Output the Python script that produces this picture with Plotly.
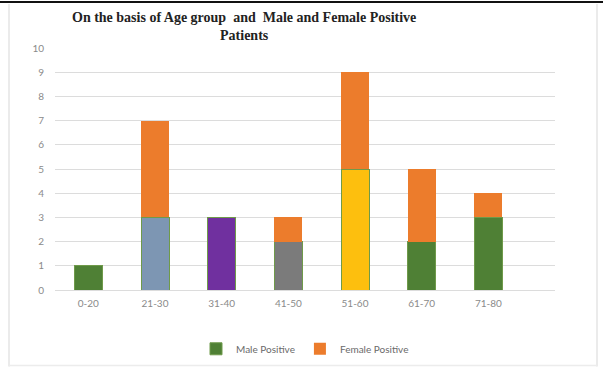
import plotly.graph_objects as go

# Patients by age group
age_groups = ["0-20", "21-30", "31-40", "41-50", "51-60", "61-70", "71-80"]
male_positive = [1, 3, 3, 2, 5, 2, 3]
female_positive = [0, 4, 0, 1, 4, 3, 1]
y_ticks = [0, 1, 2, 3, 4, 5, 6, 7, 8, 9, 10]

male_colors = ["#4f8035", "#7d96b3", "#70309f", "#7b7b7b", "#fdbf0e", "#4f8035", "#4f8035"]
female_color = "#ec7c2c"

fig = go.Figure()
fig.add_trace(go.Bar(
    x=age_groups, y=male_positive, name="Male Positive", width=0.42,
    marker=dict(color=male_colors, line=dict(color="#6f9a4a", width=1)),
))
fig.add_trace(go.Bar(
    x=age_groups, y=female_positive, name="Female Positive", width=0.42,
    marker=dict(color=female_color, line=dict(width=0)),
))

L, R, T, B = 55, 48, 48, 80
W, H = 603, 375
pw, ph = W - L - R, H - T - B


def px_x(v):
    return (v - L) / pw


def px_y(v):
    return (H - B - v) / ph


fig.update_layout(
    width=W, height=H,
    margin=dict(l=L, r=R, t=T, b=B),
    barmode="stack",
    paper_bgcolor="white", plot_bgcolor="white",
    font=dict(family="Lato", size=10, color="#7f7f7f"),
    xaxis=dict(
        type="category", range=[-0.5, 7.0], showgrid=False, showline=False,
        ticks="", tickfont=dict(size=10, color="#8a8a8a"), ticklabelstandoff=6,
    ),
    yaxis=dict(
        range=[0, 10], tickvals=y_ticks, showgrid=True, gridcolor="#dcdcdc",
        gridwidth=1, zeroline=True, zerolinecolor="#dcdcdc", zerolinewidth=1,
        showline=False, ticks="", tickfont=dict(size=10, color="#8a8a8a"),
        ticklabelstandoff=10,
    ),
    legend=dict(
        orientation="h", x=0.5, xanchor="center", y=px_y(355), yanchor="middle",
        font=dict(size=10, color="#6a6a6a"), itemwidth=30, traceorder="normal",
    ),
    showlegend=True,
    annotations=[
        dict(
            text="On the basis of Age group  and  Male and Female Positive<br>Patients",
            xref="paper", yref="paper", x=px_x(244), y=px_y(7),
            xanchor="center", yanchor="top", showarrow=False, align="center",
            font=dict(family="Liberation Serif", size=14, color="#222222", weight="bold"),
        ),
    ],
    shapes=[
        dict(type="line", xref="paper", yref="paper", x0=px_x(0), x1=px_x(603),
             y0=px_y(1), y1=px_y(1), line=dict(color="#111111", width=2)),
        dict(type="line", xref="paper", yref="paper", x0=px_x(9), x1=px_x(9),
             y0=px_y(3), y1=px_y(373), line=dict(color="#e4e4e4", width=1.5)),
        dict(type="line", xref="paper", yref="paper", x0=px_x(597), x1=px_x(597),
             y0=px_y(3), y1=px_y(373), line=dict(color="#e4e4e4", width=1.5)),
        dict(type="line", xref="paper", yref="paper", x0=px_x(9), x1=px_x(597),
             y0=px_y(372), y1=px_y(372), line=dict(color="#ececec", width=1.5)),
    ],
)

fig.write_html("out.html")
